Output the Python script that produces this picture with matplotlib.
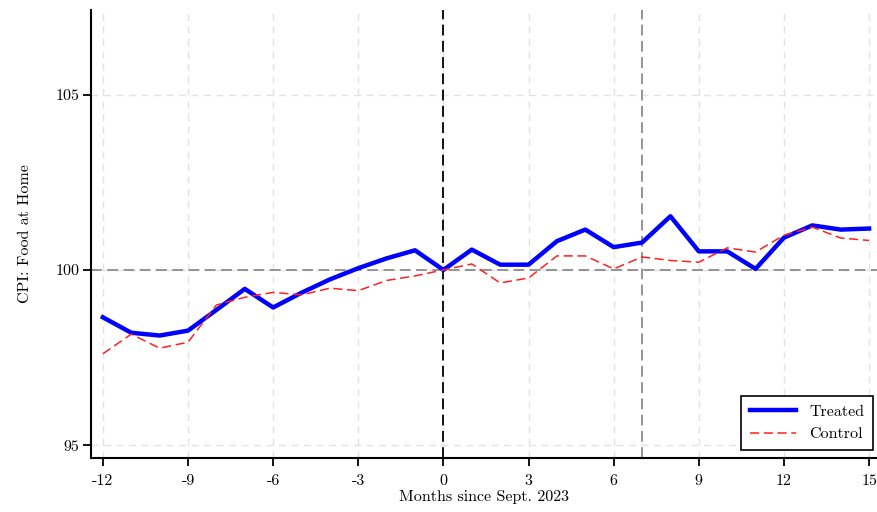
import numpy as np
import matplotlib
matplotlib.use("Agg")
from matplotlib import pyplot as plt

plt.rcParams['font.family'] = ['cmr10', 'DejaVu Serif']
plt.rcParams['axes.unicode_minus'] = False

months = list(range(-12, 16))
treated = [98.65, 98.21, 98.13, 98.27, 98.86, 99.46, 98.93, 99.35, 99.73, 100.05, 100.33, 100.56,
           100.00, 100.58, 100.15, 100.15, 100.82, 101.15, 100.65, 100.78, 101.53, 100.53, 100.53,
           100.03, 100.92, 101.27, 101.15, 101.18]
control = [97.61, 98.17, 97.77, 97.94, 99.00, 99.22, 99.36, 99.29, 99.48, 99.41, 99.70, 99.83,
           100.00, 100.17, 99.63, 99.77, 100.40, 100.40, 100.03, 100.37, 100.27, 100.22, 100.63,
           100.51, 100.99, 101.22, 100.91, 100.84]
xticks = [-12, -9, -6, -3, 0, 3, 6, 9, 12, 15]
yticks = [95, 100, 105]

fig = plt.figure(figsize=(8.77, 5.12), dpi=100)
ax = fig.add_axes([0.1034, 0.1055, 0.8966, 0.875])

# grid
for xv in xticks:
    ax.axvline(xv, color='#e3e3e3', lw=1.0, ls=(0, (5, 4)), zorder=0)
for yv in yticks:
    ax.axhline(yv, color='#e3e3e3', lw=1.0, ls=(0, (5, 4)), zorder=0)

ax.axhline(100, color='#8c8c8c', lw=1.3, ls=(0, (6, 3)), zorder=1)
ax.axvline(0, color='black', lw=1.3, ls=(0, (6, 3)), zorder=1)
ax.axvline(7, color='#8c8c8c', lw=1.3, ls=(0, (6, 3)), zorder=1)

ax.plot(months, treated, color='#0000ff', lw=3.2, label='Treated', zorder=3)
ax.plot(months, control, color='#ff2020', lw=1.1, ls=(0, (6, 3)), label='Control', zorder=4)

ax.set_xlim(-12.43, 15.28)
ax.set_ylim(94.64, 107.41)
ax.set_xticks(xticks)
ax.set_xticklabels([str(v) for v in xticks])
ax.set_yticks(yticks)
ax.set_yticklabels([str(v) for v in yticks])
ax.tick_params(direction='out', length=6, width=1.3, labelsize=11.5, colors='black')
ax.tick_params(axis='y', pad=2)
ax.tick_params(axis='x', pad=6)

for s in ['top', 'right']:
    ax.spines[s].set_visible(False)
for s in ['left', 'bottom']:
    ax.spines[s].set_linewidth(1.5)

ax.set_xlabel('Months since Sept. 2023', fontsize=11.5, labelpad=1)
ax.set_ylabel('CPI: Food at Home', fontsize=11.5, labelpad=17)

leg = ax.legend(loc='lower right', fontsize=11.5, frameon=True, fancybox=False,
                edgecolor='black', framealpha=1, handlelength=2.9, borderpad=0.55,
                borderaxespad=0.5, bbox_to_anchor=(1.005, 0.0))
leg.get_frame().set_linewidth(1.2)

fig.savefig('out.png', dpi=100)
